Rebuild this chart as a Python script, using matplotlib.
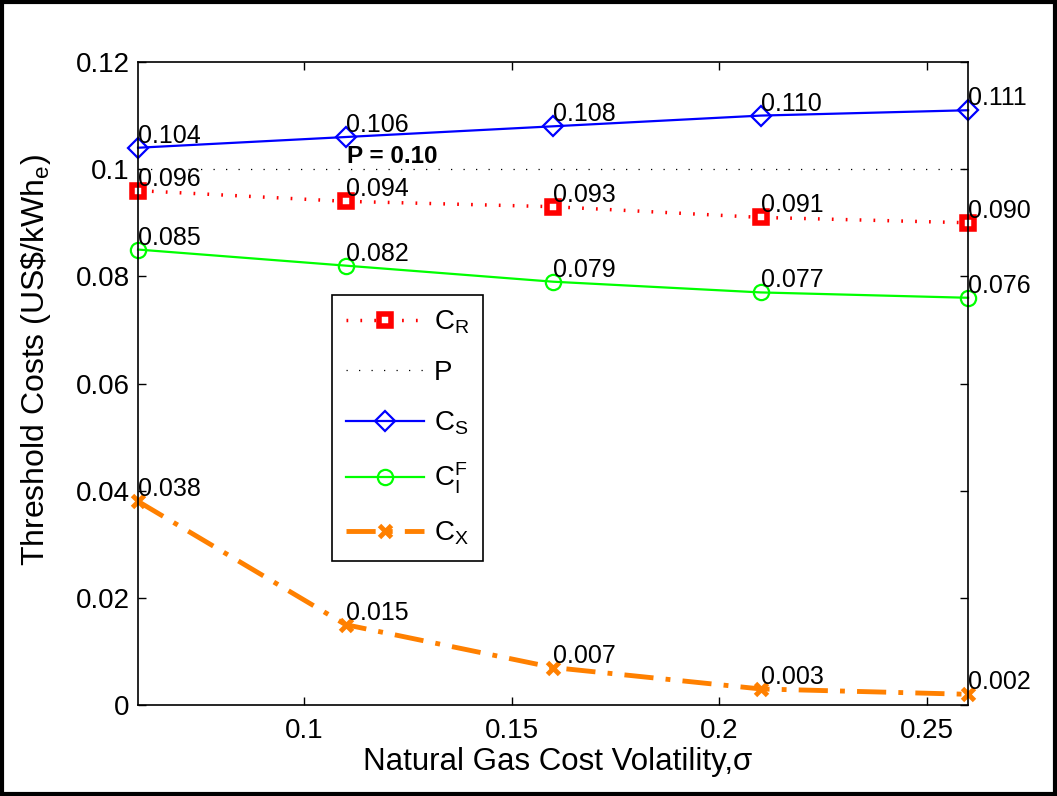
import numpy as np
import matplotlib.pyplot as plt
from matplotlib.patches import Rectangle

plt.rcParams['font.family'] = ['Liberation Sans', 'DejaVu Sans']
plt.rcParams['mathtext.fontset'] = 'custom'
plt.rcParams['mathtext.rm'] = 'Liberation Sans'
plt.rcParams['mathtext.it'] = 'Liberation Sans'

# data
sigma = [0.06, 0.11, 0.16, 0.21, 0.26]
c_s = [0.104, 0.106, 0.108, 0.110, 0.111]
c_r = [0.096, 0.094, 0.093, 0.091, 0.090]
c_if = [0.085, 0.082, 0.079, 0.077, 0.076]
c_x = [0.038, 0.015, 0.007, 0.003, 0.002]
p_value = 0.10

fig = plt.figure(figsize=(10.57, 7.96), dpi=100)
ax = fig.add_axes([0.1306, 0.1143, 0.7853, 0.8078])

# border round the whole figure
fig.patches.append(Rectangle((0.002, 0.003), 0.996, 0.994, transform=fig.transFigure,
                             fill=False, edgecolor='black', linewidth=3))

ax.plot(sigma, c_r, linestyle=(0, (0.5, 3.5)), color='red', linewidth=2.5,
        marker='s', markersize=8, markerfacecolor='white', markeredgewidth=4,
        markeredgecolor='red', clip_on=False, label='$\\mathregular{C_R}$')
ax.axhline(p_value, color='black', linestyle=(0, (1, 9)), linewidth=0.9, label='P')
ax.plot(sigma, c_s, '-', color='blue', linewidth=1.6, marker='D', markersize=10,
        markerfacecolor='none', markeredgewidth=1.6, clip_on=False,
        label='$\\mathregular{C_S}$')
ax.plot(sigma, c_if, '-', color='#00ff00', linewidth=1.6, marker='o', markersize=11,
        markerfacecolor='none', markeredgewidth=1.6, clip_on=False,
        label='$\\mathregular{C_I^F}$')
ax.plot(sigma, c_x, linestyle=(0, (6, 2.5, 1, 2.5)), color='#ff8000', linewidth=3.5,
        marker='x', markersize=8, markeredgewidth=3.5, clip_on=False,
        label='$\\mathregular{C_X}$')

# value labels
for series in [c_s, c_r, c_if, c_x]:
    for xv, yv in zip(sigma, series):
        ax.text(xv, yv, '%.3f' % yv, fontsize=18, ha='left', va='bottom')

ax.text(0.1104, 0.1011, 'P = 0.10', fontsize=17.5, fontweight='bold',
        ha='left', va='baseline')

ax.set_xlim(0.06, 0.26)
ax.set_ylim(0, 0.12)
ax.set_xticks([0.1, 0.15, 0.2, 0.25])
ax.set_xticklabels(['0.1', '0.15', '0.2', '0.25'])
ax.set_yticks([0, 0.02, 0.04, 0.06, 0.08, 0.1, 0.12])
ax.set_yticklabels(['0', '0.02', '0.04', '0.06', '0.08', '0.1', '0.12'])
ax.tick_params(direction='in', top=True, right=True, labelsize=20, length=6, width=1)
ax.tick_params(axis='x', pad=9)
ax.tick_params(axis='y', pad=6)
for s in ax.spines.values():
    s.set_linewidth(1.2)

ax.set_xlabel('Natural Gas Cost Volatility,σ', fontsize=22.5)
ax.xaxis.set_label_coords(0.505, -0.065)
ax.set_ylabel('Threshold Costs (US\\$/kWh$\\mathregular{_e}$)', fontsize=23)
ax.yaxis.set_label_coords(-0.103, 0.537)

leg = ax.legend(loc='upper left', bbox_to_anchor=(0.234, 0.638), fontsize=20,
                fancybox=False, framealpha=1, edgecolor='black', handlelength=2.8,
                borderpad=0.5, labelspacing=0.85, handletextpad=0.35,
                borderaxespad=0)
leg.get_frame().set_linewidth(1.2)

fig.savefig('out.png', dpi=100)
